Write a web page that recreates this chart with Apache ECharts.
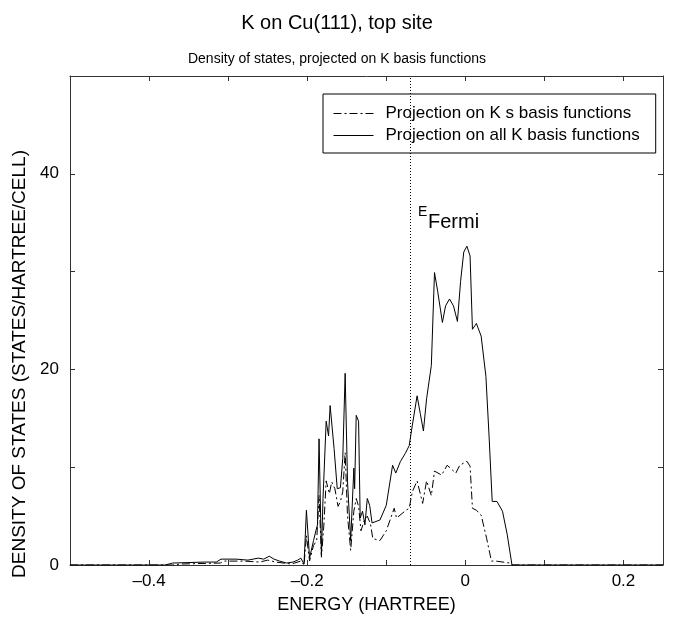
<!DOCTYPE html>
<html>
<head>
<meta charset="utf-8">
<script src="https://cdn.jsdelivr.net/npm/echarts@6/dist/echarts.min.js"></script>
<style>
  html, body { margin: 0; padding: 0; background: #fff; }
  #main { width: 674px; height: 619px; }
</style>
</head>
<body>
<div id="main"></div>
<script>
// energies (hartree) and DOS for the projection on all K basis functions
const allEnergy = [-0.5, -0.38, -0.37, -0.33, -0.315, -0.309, -0.29, -0.275, -0.262, -0.255, -0.248, -0.242,
  -0.235, -0.226, -0.218, -0.212, -0.208, -0.204, -0.201, -0.197, -0.192, -0.189, -0.187, -0.185, -0.182,
  -0.18, -0.176, -0.173, -0.171, -0.166, -0.162, -0.158, -0.155, -0.152, -0.149, -0.145, -0.141, -0.14,
  -0.138, -0.135, -0.133, -0.13, -0.127, -0.124, -0.121, -0.118, -0.108, -0.1, -0.092, -0.088, -0.082,
  -0.076, -0.071, -0.067, -0.061, -0.057, -0.053, -0.049, -0.043, -0.039, -0.035, -0.029, -0.025, -0.02,
  -0.015, -0.01, -0.006, -0.002, 0.002, 0.006, 0.009, 0.014, 0.02, 0.026, 0.03, 0.034, 0.04, 0.047,
  0.053, 0.059, 0.25];
const allDos = [0, 0, 0.2, 0.3, 0.3, 0.6, 0.6, 0.5, 0.7, 0.6, 0.9, 0.6,
  0.4, 0.2, 0.3, 0.5, 0.7, 0.1, 5.6, 0.7, 2.5, 3.5, 4.1, 12.9, 1.0,
  6.8, 14.7, 13.2, 16.3, 11.9, 7.8, 7.9, 10.9, 19.6, 8.5, 2.5, 9.9, 7.8,
  15.3, 14.7, 4.8, 5.5, 4.1, 6.8, 6.1, 4.3, 4.6, 6.1, 10.2, 9.4, 10.6,
  11.4, 12.2, 14.3, 17.3, 15.5, 13.7, 17.0, 20.4, 29.9, 28.0, 24.8, 26.5, 27.2,
  26.5, 24.9, 29.0, 32.0, 32.6, 31.6, 24.1, 24.7, 23.4, 19.3, 13.2, 6.5, 6.5, 5.5,
  3.1, 0, 0];

// projection on K s basis functions
const sEnergy = [-0.5, -0.37, -0.36, -0.31, -0.305, -0.28, -0.26, -0.25, -0.24, -0.22, -0.208, -0.204,
  -0.201, -0.197, -0.192, -0.188, -0.185, -0.182, -0.179, -0.176, -0.172, -0.169, -0.165, -0.161,
  -0.158, -0.155, -0.152, -0.149, -0.145, -0.141, -0.138, -0.135, -0.132, -0.128, -0.124, -0.12,
  -0.117, -0.108, -0.1, -0.09, -0.087, -0.075, -0.071, -0.067, -0.061, -0.054, -0.049, -0.043,
  -0.039, -0.03, -0.023, -0.012, -0.007, 0.002, 0.006, 0.009, 0.014, 0.02, 0.027, 0.033, 0.039,
  0.056, 0.059, 0.25];
const sDos = [0, 0, 0.1, 0.2, 0.4, 0.4, 0.3, 0.5, 0.3, 0.1, 0.4, 0,
  3.0, 0.4, 2.0, 2.5, 7.1, 0.8, 4.0, 8.6, 7.3, 8.5, 7.8, 6.0,
  6.5, 7.5, 11.5, 5.0, 1.5, 5.5, 6.8, 6.0, 3.5, 4.5, 5.0, 4.2,
  2.7, 2.5, 3.5, 5.8, 4.8, 5.6, 5.8, 7.5, 8.6, 6.3, 8.6, 7.1,
  9.6, 9.2, 10.2, 9.4, 10.2, 10.6, 10.1, 5.8, 5.6, 5.1, 2.7, 0.4, 0.4,
  0.2, 0, 0];

const fermiEnergy = -0.069;
const xLabels = [-0.4, -0.2, 0, 0.2];
const yLabels = [0, 20, 40];

const zip = (xs, ys) => xs.map((x, i) => [x, ys[i]]);
const font = 'Liberation Sans, Arial, sans-serif';
const axisColor = '#333';

const xLabelFmt = v => {
  const hit = xLabels.find(l => Math.abs(l - v) < 1e-6);
  if (hit === undefined) return '';
  return hit < 0 ? '\u2013' + Math.abs(hit) : String(hit);
};
const yLabelFmt = v => (yLabels.includes(Math.round(v)) ? String(Math.round(v)) : '');

const chart = echarts.init(document.getElementById('main'));

const baseX = {
  type: 'value', min: -0.5, max: 0.25, interval: 0.1,
  axisLine: { show: true, onZero: false, lineStyle: { color: axisColor, width: 1 } },
  axisTick: { show: true, inside: true, length: 5, lineStyle: { color: axisColor } },
  splitLine: { show: false }
};
const baseY = {
  type: 'value', min: 0, max: 50, interval: 10,
  axisLine: { show: true, onZero: false, lineStyle: { color: axisColor, width: 1 } },
  axisTick: { show: true, inside: true, length: 5, lineStyle: { color: axisColor } },
  splitLine: { show: false }
};

const option = {
  animation: false,
  backgroundColor: '#fff',
  title: [
    { text: 'K on Cu(111), top site', left: 'center', top: 8,
      textStyle: { fontFamily: font, fontSize: 20, fontWeight: 'normal', color: '#000' } },
    { text: 'Density of states, projected on K basis functions', left: 'center', top: 47,
      textStyle: { fontFamily: font, fontSize: 14, fontWeight: 'normal', color: '#000' } }
  ],
  grid: { left: 70, right: 11, top: 76, bottom: 52 },
  legend: {
    orient: 'vertical', left: 323, top: 94,
    borderColor: '#000', borderWidth: 1, padding: [11, 16, 9, 10],
    itemWidth: 40, itemHeight: 14, itemGap: 5,
    itemStyle: { opacity: 0 },
    lineStyle: { width: 1 },
    textStyle: { fontFamily: font, fontSize: 17, color: '#000', padding: [0, 0, 0, 7] },
    data: ['Projection on K s basis functions', 'Projection on all K basis functions']
  },
  xAxis: [
    Object.assign({}, baseX, {
      position: 'bottom',
      name: 'ENERGY (HARTREE)', nameLocation: 'middle', nameGap: 31,
      nameTextStyle: { fontFamily: font, fontSize: 18, color: '#000' },
      axisLabel: { formatter: xLabelFmt, margin: 8, fontFamily: font, fontSize: 17, color: '#000' }
    }),
    Object.assign({}, baseX, { position: 'top', axisLabel: { show: false } })
  ],
  yAxis: [
    Object.assign({}, baseY, {
      position: 'left',
      axisLabel: { formatter: yLabelFmt, margin: 11, fontFamily: font, fontSize: 17, color: '#000' }
    }),
    Object.assign({}, baseY, { position: 'right', axisLabel: { show: false } })
  ],
  graphic: [
    { type: 'text', x: 20, y: 364, rotation: Math.PI / 2,
      style: { text: 'DENSITY OF STATES (STATES/HARTREE/CELL)', font: '19px ' + font,
        fill: '#000', align: 'center', verticalAlign: 'middle' } },
    { type: 'text', x: 418, y: 205,
      style: { text: 'E', font: '14px ' + font, fill: '#000' } },
    { type: 'text', x: 428, y: 212,
      style: { text: 'Fermi', font: '20px ' + font, fill: '#000' } }
  ],
  series: [
    {
      name: 'Projection on K s basis functions', type: 'line',
      data: zip(sEnergy, sDos), symbol: 'none',
      lineStyle: { color: '#000', width: 1, type: [8, 3, 2, 3] },
      itemStyle: { color: '#000' }
    },
    {
      name: 'Projection on all K basis functions', type: 'line',
      data: zip(allEnergy, allDos), symbol: 'none',
      lineStyle: { color: '#000', width: 1 },
      itemStyle: { color: '#000' },
      markLine: {
        silent: true, symbol: 'none', label: { show: false },
        lineStyle: { color: '#000', width: 1, type: [1, 2] },
        data: [{ xAxis: fermiEnergy }]
      }
    }
  ]
};

chart.setOption(option);
</script>
</body>
</html>
